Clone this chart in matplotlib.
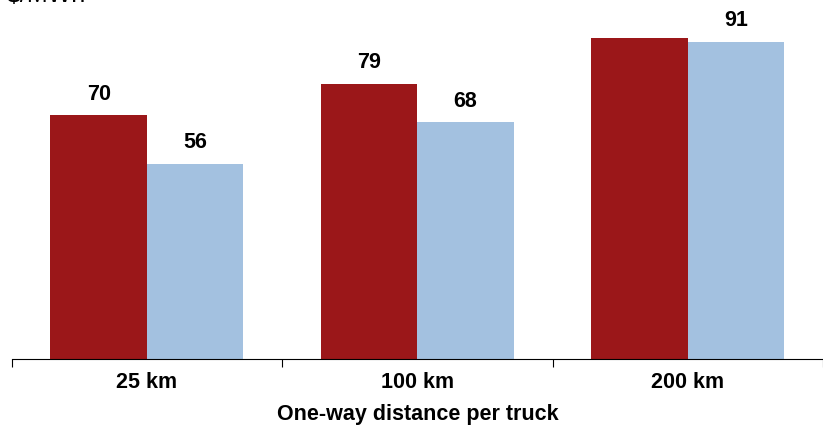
import matplotlib.pyplot as plt
import numpy as np

plt.rcParams['font.family'] = ['Liberation Sans', 'DejaVu Sans']

categories = ["25 km", "100 km", "200 km"]
series_a = [70, 79, 92]
series_b = [56, 68, 91]
# the red bar at 200 km carries no label in the source
labels_a = ["70", "79", ""]
labels_b = ["56", "68", "91"]

red = "#9b1719"
blue = "#a3c1e0"
fs = 15.5

fig = plt.figure(figsize=(8.23, 4.25), dpi=100)
ax = fig.add_axes([11.7 / 823, 1 - 359 / 425, 1 - 11.7 / 823, 359 / 425])

x = np.arange(len(categories))
w = 0.357
bars_a = ax.bar(x - w / 2, series_a, w, color=red)
bars_b = ax.bar(x + w / 2, series_b, w, color=blue)

for bars, lbls in ((bars_a, labels_a), (bars_b, labels_b)):
    for b, t in zip(bars, lbls):
        if t:
            ax.annotate(t, (b.get_x() + b.get_width() / 2, b.get_height()),
                        xytext=(0, 7.5), textcoords="offset points",
                        ha="center", va="bottom", fontsize=fs, fontweight="bold")

ax.set_xlim(-0.5, 2.483)
ax.set_ylim(0, 103)
ax.set_yticks([])
for s in ("top", "right", "left"):
    ax.spines[s].set_visible(False)
ax.spines["bottom"].set_color("black")

ax.set_xticks([-0.5, 0.5, 1.5, 2.5])
ax.set_xticklabels([])
ax.tick_params(axis="x", which="major", length=6, direction="out", color="black")
ax.set_xticks(x, minor=True)
ax.set_xticklabels(categories, minor=True, fontsize=fs, fontweight="bold")
ax.tick_params(axis="x", which="minor", length=0, pad=9)

ax.set_xlabel("One-way distance per truck", fontsize=fs, fontweight="bold", labelpad=8.5)
fig.text(7 / 823, 1 - 2.5 / 425, "$/MWh", fontsize=18, ha="left", va="baseline")

fig.savefig("out.png", dpi=100)
